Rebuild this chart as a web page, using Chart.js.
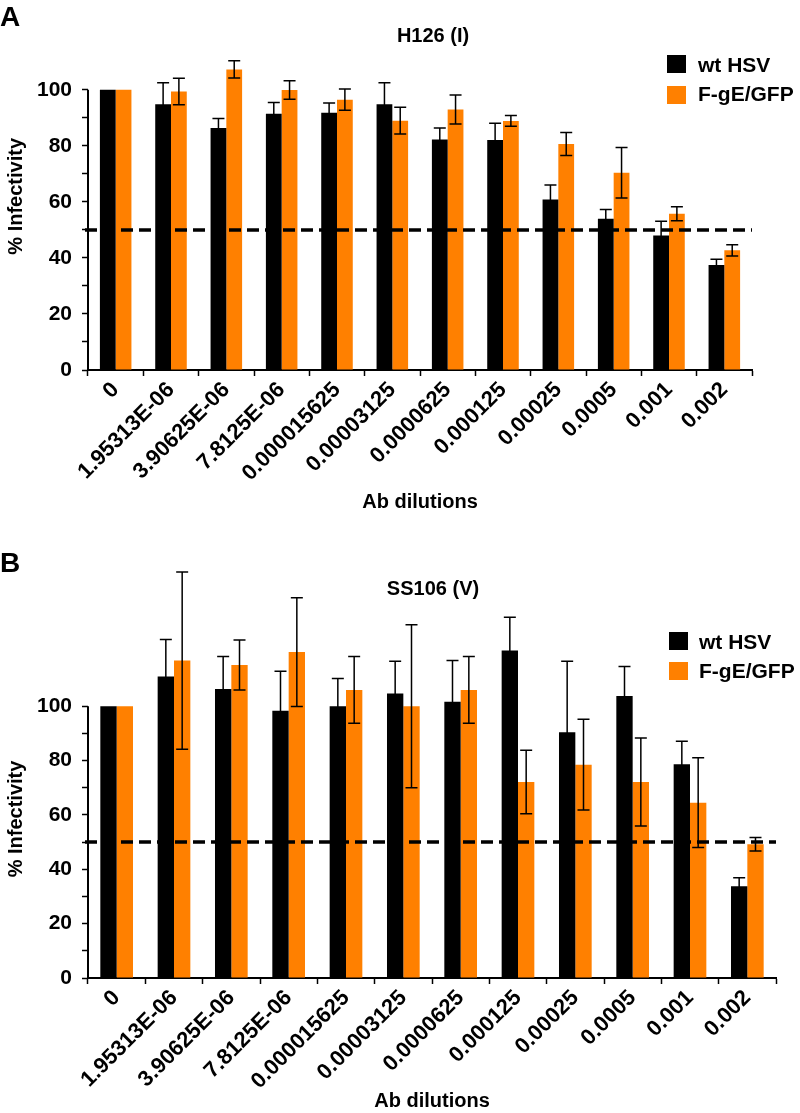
<!DOCTYPE html>
<html>
<head>
<meta charset="utf-8">
<title>% Infectivity vs Ab dilutions</title>
<script src="https://cdn.jsdelivr.net/npm/chart.js@4.4.1/dist/chart.umd.min.js"></script>
<style>
  body { margin: 0; background: #fff; }
  #wrap { position: relative; width: 800px; height: 1113px; overflow: hidden;
          font-family: "Liberation Sans", Arial, sans-serif; font-weight: bold; color: #000; }
  canvas { position: absolute; left: 0; }
  .txt { position: absolute; line-height: 1; white-space: nowrap; }
  .sw { position: absolute; width: 19px; height: 18px; }
</style>
</head>
<body>
<div id="wrap">
  <canvas id="chartA" width="800" height="520" style="top:0"></canvas>
  <canvas id="chartB" width="800" height="593" style="top:520px"></canvas>

  <!-- panel letters + titles -->
  <div class="txt" style="left:0;top:3px;font-size:28px">A</div>
  <div class="txt" style="left:333px;width:200px;text-align:center;top:25px;font-size:20px">H126 (I)</div>
  <div class="txt" style="left:0;top:549px;font-size:28px">B</div>
  <div class="txt" style="left:333px;width:200px;text-align:center;top:578px;font-size:20px">SS106 (V)</div>

  <!-- legends -->
  <div class="sw" style="left:667px;top:55px;background:#000"></div>
  <div class="txt" style="left:698px;top:54px;font-size:21px">wt HSV</div>
  <div class="sw" style="left:667px;top:86px;background:#ff8000"></div>
  <div class="txt" style="left:698px;top:83px;font-size:21px">F-gE/GFP</div>

  <div class="sw" style="left:669px;top:632px;background:#000"></div>
  <div class="txt" style="left:699px;top:631px;font-size:21px">wt HSV</div>
  <div class="sw" style="left:669px;top:662px;background:#ff8000"></div>
  <div class="txt" style="left:699px;top:660px;font-size:21px">F-gE/GFP</div>
</div>

<script>
// categories
const dilutions = ['0', '1.95313E-06', '3.90625E-06', '7.8125E-06', '0.000015625', '0.00003125',
                   '0.0000625', '0.000125', '0.00025', '0.0005', '0.001', '0.002'];

// panel A - H126 (I)
const wtA     = [100, 94.9, 86.4, 91.5, 91.8, 94.9, 82.3, 82.1, 60.9, 54.0, 48.0, 37.5];
const wtErrA  = [0, 7.6, 3.4, 4.0, 3.5, 7.6, 4.1, 6.0, 5.1, 3.3, 5.1, 2.0];
const gfpA    = [100, 99.4, 107.3, 99.9, 96.5, 89.0, 93.0, 88.9, 80.7, 70.4, 55.8, 42.7];
const gfpErrA = [0, 4.7, 3.1, 3.3, 3.8, 4.8, 5.2, 1.9, 4.1, 9.0, 2.5, 2.0];

// panel B - SS106 (V)
const wtB     = [100, 110.9, 106.3, 98.3, 100, 104.7, 101.6, 120.5, 90.4, 103.8, 78.6, 33.8];
const wtErrB  = [0, 13.6, 12.0, 14.6, 10.2, 11.8, 15.2, 12.2, 26.1, 10.8, 8.5, 3.1];
const gfpB    = [100, 116.8, 115.2, 119.9, 106.0, 100, 106.0, 72.1, 78.5, 72.1, 64.5, 49.2];
const gfpErrB = [0, 32.6, 9.2, 20.0, 12.3, 30.0, 12.3, 11.7, 16.7, 16.2, 16.5, 2.5];

// y ticks shown only up to 100, dashed line at 50%
const tickTop = 100;
const halfLine = 50;

Chart.defaults.font.family = '"Liberation Sans", Arial, sans-serif';
Chart.defaults.font.weight = 'bold';
Chart.defaults.color = '#000';

// y axis line (0..100), 50% dashed line and error bars
const panelDecor = {
    id: 'panelDecor',
    afterDatasetsDraw(chart) {
        const ctx = chart.ctx;
        const area = chart.chartArea;
        const y = chart.scales.y;
        ctx.save();
        ctx.strokeStyle = '#000';

        ctx.lineWidth = 2;
        ctx.beginPath();
        ctx.moveTo(area.left, y.getPixelForValue(0) + 1);
        ctx.lineTo(area.left, y.getPixelForValue(tickTop));
        ctx.stroke();

        ctx.lineWidth = 3.5;
        ctx.setLineDash([12, 6]);
        const y50 = y.getPixelForValue(halfLine);
        ctx.beginPath();
        ctx.moveTo(area.left - 3, y50);
        ctx.lineTo(area.right, y50);
        ctx.stroke();
        ctx.setLineDash([]);

        ctx.lineWidth = 1.5;
        chart.data.datasets.forEach((ds, i) => {
            chart.getDatasetMeta(i).data.forEach((bar, j) => {
                const e = ds.errors[j];
                if (!e) return;
                const top = y.getPixelForValue(ds.data[j] + e);
                const bot = y.getPixelForValue(ds.data[j] - e);
                ctx.beginPath();
                ctx.moveTo(bar.x, top); ctx.lineTo(bar.x, bot);
                ctx.moveTo(bar.x - 6, top); ctx.lineTo(bar.x + 6, top);
                ctx.moveTo(bar.x - 6, bot); ctx.lineTo(bar.x + 6, bot);
                ctx.stroke();
            });
        });
        ctx.restore();
    }
};

function makePanel(id, wt, wtErr, gfp, gfpErr, yMax, box) {
    return new Chart(document.getElementById(id), {
        type: 'bar',
        data: {
            labels: dilutions,
            datasets: [
                { label: 'wt HSV', data: wt, errors: wtErr, backgroundColor: '#000', borderWidth: 0, clip: false },
                { label: 'F-gE/GFP', data: gfp, errors: gfpErr, backgroundColor: '#ff8000', borderWidth: 0, clip: false }
            ]
        },
        options: {
            responsive: false,
            animation: false,
            layout: { padding: { top: box.top, right: box.right, left: 0, bottom: 0 } },
            categoryPercentage: 0.57,
            barPercentage: 1,
            plugins: { legend: { display: false }, tooltip: { enabled: false } },
            scales: {
                x: {
                    afterFit: s => { s.height = box.xh; },
                    border: { color: '#000', width: 2 },
                    grid: { drawOnChartArea: false, tickLength: 6, tickColor: '#000', tickWidth: 1.5, offset: true },
                    ticks: { color: '#000', font: { size: 22, weight: 'bold' }, minRotation: 45, maxRotation: 45, autoSkip: false, padding: 1 },
                    title: { display: true, text: 'Ab dilutions', color: '#000', font: { size: 20, weight: 'bold' },
                             padding: { top: 0, bottom: box.titlePad } }
                },
                y: {
                    min: 0,
                    max: yMax,
                    afterFit: s => { s.width = 88; },
                    afterBuildTicks: s => { s.ticks = s.ticks.filter(t => t.value <= tickTop); },
                    border: { display: false },
                    grid: { drawOnChartArea: false, tickLength: 6, tickColor: '#000', tickWidth: 1.5 },
                    ticks: { stepSize: 10, autoSkip: false, color: '#000', font: { size: 21, weight: 'bold' }, padding: 10,
                             callback: v => (v % 20 === 0 ? v : '') },
                    title: { display: true, text: '% Infectivity', color: '#000', font: { size: 20, weight: 'bold' },
                             padding: { top: 4, bottom: 0 } }
                }
            }
        },
        plugins: [panelDecor]
    });
}

makePanel('chartA', wtA, wtErrA, gfpA, gfpErrA, 124, { top: 4, right: 48, xh: 150, titlePad: 6 });
makePanel('chartB', wtB, wtErrB, gfpB, gfpErrB, 117, { top: 140, right: 24, xh: 135, titlePad: 0 });
</script>
</body>
</html>
